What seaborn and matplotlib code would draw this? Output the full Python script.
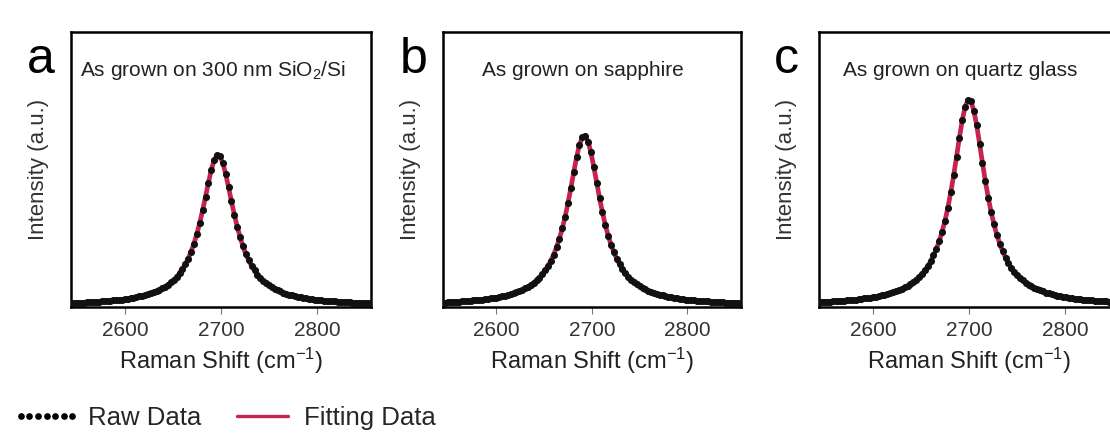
import matplotlib
matplotlib.use("Agg")
import matplotlib.pyplot as plt
from matplotlib.lines import Line2D
import numpy as np
import pandas as pd
import seaborn as sns

# raman 2D band (intensity as fraction of axis height)
shift = np.arange(2546, 2859, 3)  # cm-1, 105 points

intensity_a = [
    0.022, 0.023, 0.023, 0.024, 0.024, 0.025, 0.025, 0.026, 0.027, 0.027,
    0.028, 0.029, 0.030, 0.031, 0.032, 0.033, 0.034, 0.035, 0.036, 0.038,
    0.040, 0.041, 0.043, 0.046, 0.048, 0.051, 0.054, 0.057, 0.061, 0.065,
    0.070, 0.075, 0.081, 0.088, 0.097, 0.106, 0.117, 0.130, 0.145, 0.162,
    0.183, 0.208, 0.237, 0.272, 0.312, 0.357, 0.406, 0.456, 0.503, 0.538,
    0.556,
    0.552, 0.528, 0.488, 0.440, 0.389, 0.341, 0.298, 0.260, 0.227, 0.199,
    0.176, 0.156, 0.140, 0.125, 0.113, 0.103, 0.094, 0.086, 0.079, 0.073,
    0.068, 0.064, 0.059, 0.056, 0.053, 0.050, 0.047, 0.045, 0.043, 0.041,
    0.039, 0.037, 0.036, 0.035, 0.033, 0.032, 0.031, 0.030, 0.029, 0.028,
    0.028, 0.027, 0.026, 0.026, 0.025, 0.025, 0.024, 0.024, 0.023, 0.023,
    0.022, 0.022, 0.021, 0.021,
]

intensity_b = [
    0.024, 0.025, 0.026, 0.026, 0.027, 0.027, 0.028, 0.029, 0.030, 0.031,
    0.032, 0.033, 0.034, 0.035, 0.036, 0.037, 0.039, 0.041, 0.042, 0.044,
    0.047, 0.049, 0.052, 0.055, 0.058, 0.061, 0.066, 0.070, 0.075, 0.081,
    0.088, 0.095, 0.104, 0.114, 0.126, 0.140, 0.156, 0.175, 0.197, 0.224,
    0.255, 0.292, 0.334, 0.384, 0.438, 0.495, 0.549, 0.594, 0.621,
    0.626, 0.605, 0.566, 0.513, 0.457, 0.401, 0.350, 0.305, 0.266, 0.233,
    0.205, 0.182, 0.162, 0.145, 0.130, 0.118, 0.107, 0.098, 0.090, 0.083,
    0.077, 0.072, 0.067, 0.063, 0.059, 0.056, 0.053, 0.050, 0.047, 0.045,
    0.043, 0.041, 0.040, 0.038, 0.037, 0.035, 0.034, 0.033, 0.032, 0.031,
    0.030, 0.029, 0.028, 0.028, 0.027, 0.026, 0.026, 0.025, 0.025, 0.024,
    0.024, 0.023, 0.023, 0.022, 0.022, 0.022,
]

intensity_c = [
    0.026, 0.026, 0.027, 0.027, 0.028, 0.029, 0.029, 0.030, 0.031, 0.032,
    0.033, 0.034, 0.035, 0.036, 0.037, 0.039, 0.040, 0.042, 0.043, 0.045,
    0.047, 0.050, 0.052, 0.055, 0.058, 0.061, 0.065, 0.069, 0.074, 0.079,
    0.084, 0.091, 0.098, 0.107, 0.116, 0.128, 0.140, 0.155, 0.173, 0.194,
    0.218, 0.246, 0.280, 0.320, 0.367, 0.422, 0.483, 0.551, 0.619, 0.683,
    0.731, 0.755,
    0.750, 0.717, 0.663, 0.597, 0.528, 0.462, 0.403, 0.351, 0.306, 0.268,
    0.236, 0.209, 0.186, 0.167, 0.150, 0.136, 0.124, 0.113, 0.104, 0.096,
    0.089, 0.082, 0.077, 0.072, 0.068, 0.064, 0.060, 0.057, 0.054, 0.051,
    0.049, 0.047, 0.045, 0.043, 0.041, 0.040, 0.038, 0.037, 0.036, 0.034,
    0.033, 0.032, 0.032, 0.031, 0.030, 0.029, 0.028, 0.028, 0.027, 0.026,
    0.026, 0.025, 0.025,
]

panel_letters = ["a", "b", "c"]
panel_titles = ["As grown on 300 nm SiO$_{2}$/Si", "As grown on sapphire",
                "As grown on quartz glass"]
x_ticks = [2600, 2700, 2800]
legend_labels = ["Raw Data", "Fitting Data"]

fit_color = "#c8234f"

sns.set_theme(style="ticks")
plt.rcParams["font.family"] = ["Liberation Sans", "DejaVu Sans"]
plt.rcParams["mathtext.fontset"] = "custom"
plt.rcParams["mathtext.rm"] = "Liberation Sans"
plt.rcParams["mathtext.default"] = "regular"

fig = plt.figure(figsize=(11.1, 4.37), dpi=100)

# axes boxes in figure fraction (left, bottom, width, height)
boxes = [(0.064, 0.2975, 0.270, 0.629),
         (0.399, 0.2975, 0.2685, 0.629),
         (0.738, 0.2975, 0.270, 0.629)]
text_x = [0.03, 0.13, 0.08]
letter_x = [0.037, 0.373, 0.708]

for i, ys in enumerate([intensity_a, intensity_b, intensity_c]):
    ax = fig.add_axes(boxes[i])
    df = pd.DataFrame({"shift": shift, "intensity": ys})
    sns.lineplot(data=df, x="shift", y="intensity", ax=ax, color=fit_color,
                 linewidth=3.4, zorder=2)
    sns.scatterplot(data=df, x="shift", y="intensity", ax=ax, color="#111111",
                    s=26, linewidth=0, zorder=3)
    ax.set_xlim(2544, 2856)
    ax.set_ylim(0.008, 1.0)
    ax.set_xticks(x_ticks)
    ax.set_yticks([])
    ax.tick_params(axis="x", direction="out", length=5, width=0.8,
                   color="#777777", labelsize=15, labelcolor="#333333", pad=5)
    for sp in ax.spines.values():
        sp.set_linewidth(1.8)
        sp.set_color("black")
    ax.set_xlabel("Raman Shift (cm$^{-1}$)", fontsize=17, color="#222222",
                  labelpad=4)
    ax.set_ylabel("Intensity (a.u.)", fontsize=16, color="#333333")
    ax.yaxis.set_label_coords(-0.075, 0.5)
    ax.text(text_x[i], 0.862, panel_titles[i], transform=ax.transAxes,
            fontsize=15, color="#222222", va="center", ha="left")
    fig.text(letter_x[i], 0.833, panel_letters[i], fontsize=36, color="black",
             ha="center", va="baseline")

handles = [Line2D([0], [0], ls="none", marker="o", color="black", markersize=3.8),
           Line2D([0], [0], color=fit_color, linewidth=2.4)]
fig.legend(handles, legend_labels, loc="lower left", bbox_to_anchor=(-0.009, -0.037),
           ncol=2, frameon=False, fontsize=18.5, numpoints=7, handlelength=2.6,
           handletextpad=0.3, columnspacing=1.1)

plt.savefig("out.png", dpi=100)
